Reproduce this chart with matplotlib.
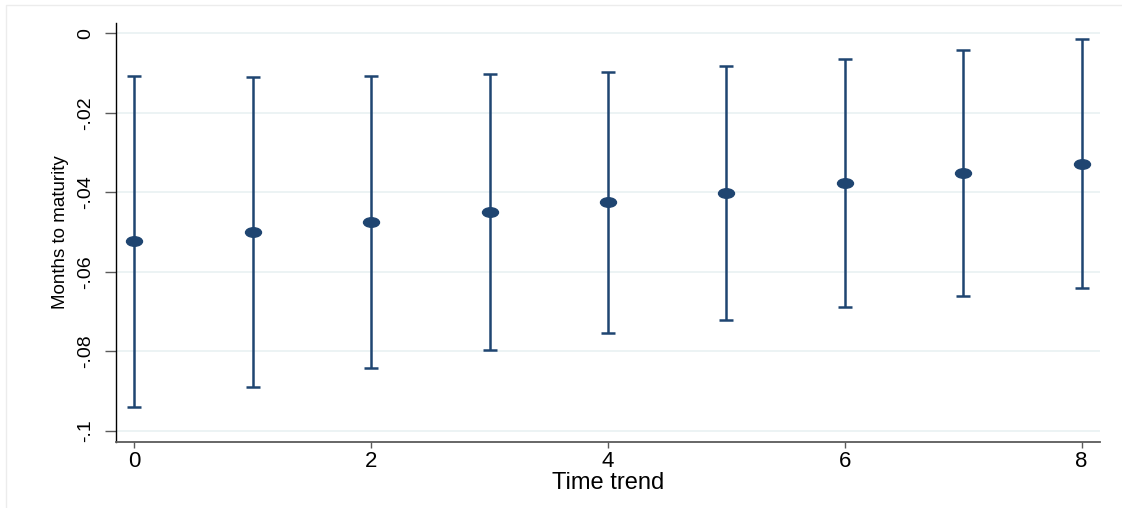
import numpy as np
import matplotlib.pyplot as plt
from matplotlib.path import Path
from matplotlib.lines import Line2D
from matplotlib import font_manager

# coefficient estimates by time trend
trend = [0, 1, 2, 3, 4, 5, 6, 7, 8]
coef = [-0.0523, -0.0499, -0.0474, -0.0449, -0.0424, -0.0401, -0.0376, -0.0352, -0.0328]
ci_hi = [-0.0107, -0.0109, -0.0107, -0.0102, -0.0097, -0.0082, -0.0064, -0.0042, -0.0014]
ci_lo = [-0.0939, -0.0889, -0.0841, -0.0796, -0.0753, -0.0721, -0.0688, -0.0660, -0.0640]

yticks = [0, -0.02, -0.04, -0.06, -0.08, -0.1]
ytick_labels = ['0', '-.02', '-.04', '-.06', '-.08', '-.1']
xticks = [0, 2, 4, 6, 8]

navy = '#1f4571'

names = set(f.name for f in font_manager.fontManager.ttflist)
narrow = 'Liberation Sans Narrow' if 'Liberation Sans Narrow' in names else 'Liberation Sans'
nsize = 16 if narrow == 'Liberation Sans Narrow' else 14

plt.rcParams['font.family'] = ['Liberation Sans', 'DejaVu Sans']

fig = plt.figure(figsize=(11.22, 5.08), dpi=100)
ax = fig.add_axes([0.1037, 0.1305, 0.8767, 0.8242])

# stretched circle like the original
circ = Path.unit_circle()
ell = Path(circ.vertices * [1.68, 1.0], circ.codes)

y = np.array(coef)
err = [y - np.array(ci_lo), np.array(ci_hi) - y]
ax.errorbar(trend, coef, yerr=err, fmt='none', ecolor=navy, elinewidth=1.8,
            capsize=5.3, capthick=1.8, zorder=3)
ax.plot(trend, coef, linestyle='none', marker=ell, markersize=11.5,
        color=navy, zorder=4)

ax.set_xlim(-0.152, 8.155)
ax.set_ylim(-0.1027, 0.0026)

ax.set_yticks(yticks)
ax.set_yticklabels(ytick_labels, rotation=90, va='center',
                   fontsize=nsize, family=[narrow, 'DejaVu Sans'])
ax.set_xticks(xticks)
ax.set_xticklabels([str(t) for t in xticks], fontsize=16)

ax.grid(axis='y', color='#eaf2f3', linewidth=1.3, zorder=0)
ax.set_axisbelow(True)

for s in ['top', 'right']:
    ax.spines[s].set_visible(False)
ax.spines['left'].set_color('black')
ax.spines['left'].set_linewidth(1.0)
ax.spines['bottom'].set_color('#5a5a5a')
ax.spines['bottom'].set_linewidth(1.3)

ax.tick_params(axis='y', length=8, width=1.0, color='#5a5a5a', pad=8)
ax.tick_params(axis='x', length=4, width=1.0, color='#5a5a5a', pad=3)

ax.set_xlabel('Time trend', fontsize=17, labelpad=0)
ax.set_ylabel('Months to maturity', fontsize=nsize - 0.5,
              family=[narrow, 'DejaVu Sans'], labelpad=6)

# faint outer border of the graph region
bx = 5.5 / 1122
by = 1 - 5.3 / 508
fig.add_artist(Line2D([bx, bx, 1.0], [0.0, by, by], transform=fig.transFigure,
                      color='#ececec', linewidth=1.0))

fig.savefig('out.png', dpi=100)
